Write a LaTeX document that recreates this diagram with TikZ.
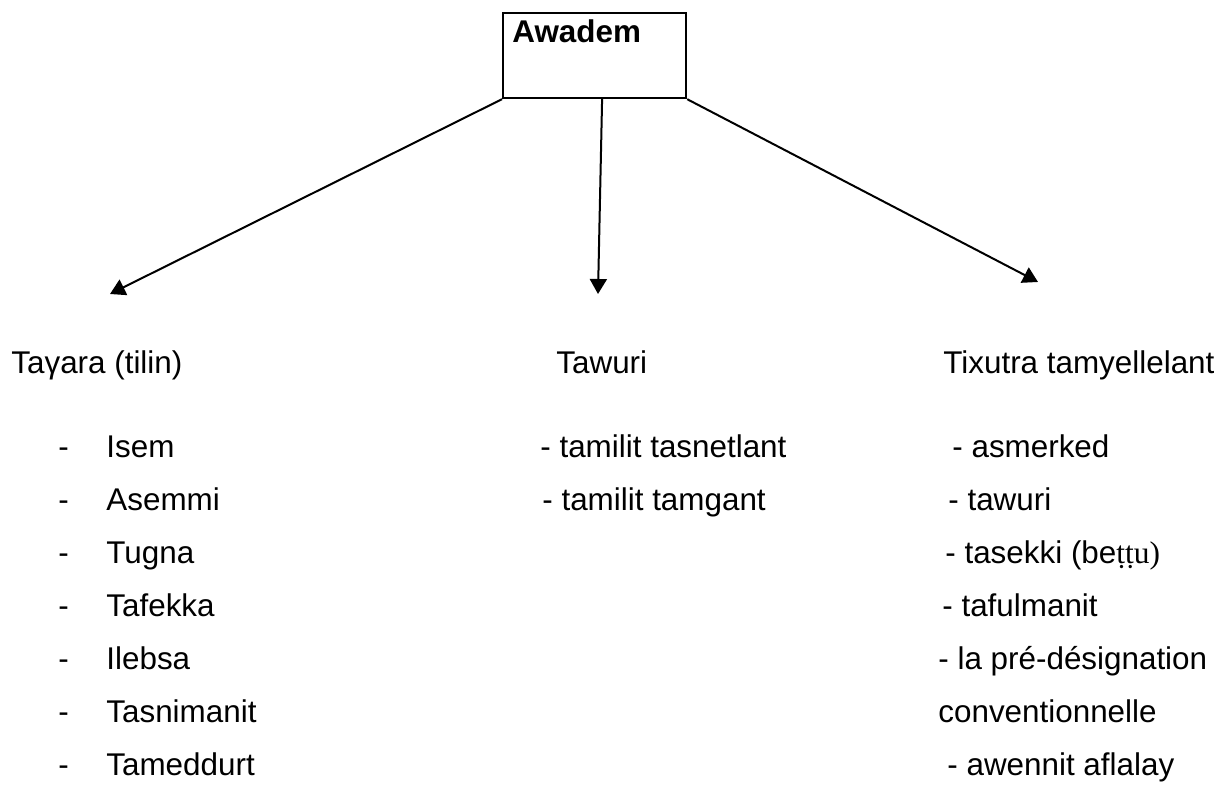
\documentclass[tikz,border=0pt]{standalone}
\usepackage{fontspec}
\setmainfont{Liberation Sans}
\newfontfamily\seriffont{Liberation Serif}
\usetikzlibrary{arrows.meta}
\begin{document}
\begin{tikzpicture}[x=0.5pt,y=-0.5pt,
  txt/.style={anchor=base west,inner sep=0pt,font=\fontsize{15.7pt}{18pt}\selectfont},
  boxst/.style={draw,line width=1.1pt,minimum width=91.5pt,minimum height=42.5pt,inner sep=0pt,anchor=north west},
  arr/.style={line width=1pt,-{Triangle[length=7.5pt,width=8.5pt]}}]
\useasboundingbox (0,0) rectangle (1228,792);
\node[boxst] (box) at (502,12) {};
\node[txt,font=\fontsize{15.7pt}{18pt}\selectfont\bfseries] (awadem) at (512,43) {Awadem};
\coordinate (tl) at (110,294);
\coordinate (tm) at (598,294);
\coordinate (tr) at (1038,282);
\draw[arr] (box.south west) -- (tl);
\draw[arr] ([xshift=3.75pt]box.south) -- (tm);
\draw[arr] (box.south east) -- (tr);
% headings
\node[txt] (h1) at (11,373) {Taγara (tilin)};
\node[txt] (h2) at (556,373) {Tawuri};
\node[txt] (h3) at (943,373) {Tixutra tamyellelant};
% left column
\foreach \t [count=\i] in {Isem,Asemmi,Tugna,Tafekka,Ilebsa,Tasnimanit,Tameddurt}{
  \node[txt] (ld\i) at (58,404+53*\i) {-};
  \node[txt] (l\i) at (106,404+53*\i) {\t};
}
% middle column
\node[txt] (m1) at (540,457) {- tamilit tasnetlant};
\node[txt] (m2) at (542,510) {- tamilit tamgant};
% right column
\node[txt] (r1) at (952,457) {- asmerked};
\node[txt] (r2) at (948,510) {- tawuri};
\node[txt] (r3) at (945,563) {- tasekki (be{\seriffont ṭṭu)}};
\node[txt] (r4) at (942,616) {- tafulmanit};
\node[txt] (r5) at (938,669) {- la pré-désignation};
\node[txt] (r6) at (938,722) {conventionnelle};
\node[txt] (r7) at (947,775) {- awennit aflalay};
\end{tikzpicture}
\end{document}
